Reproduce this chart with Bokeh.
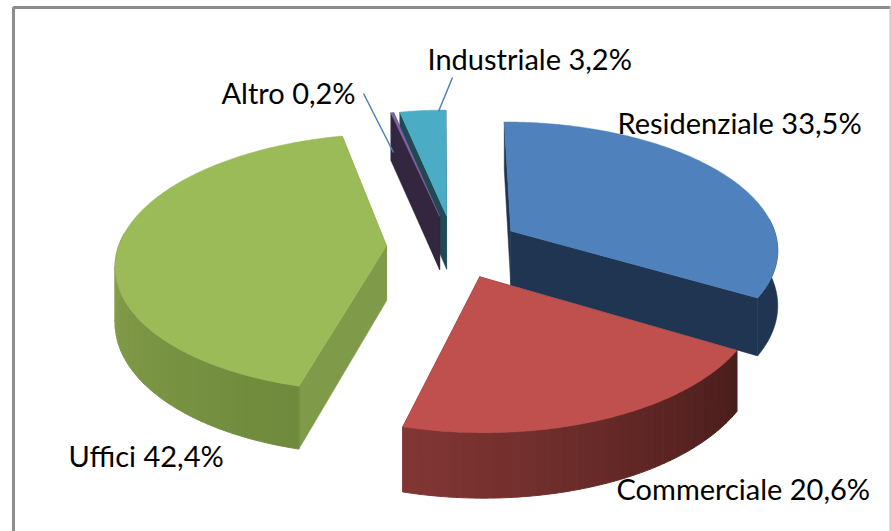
import numpy as np
from bokeh.plotting import figure
from bokeh.embed import file_html
from bokeh.resources import INLINE
from bokeh.core.properties import value

categories = ["Residenziale", "Commerciale", "Uffici", "Altro", "Industriale"]
shares = [33.5, 20.6, 42.4, 0.2, 3.2]

top_colors = ["#4F81BD", "#C0504D", "#9BBB59", "#8064A2", "#4BACC6"]
rim_left = ["#1F3552", "#813634", "#86A04C", "#33263F", "#1F4A55"]
rim_right = ["#1F3552", "#4A1D1B", "#6F8A3C", "#33263F", "#1F4A55"]
edge_colors = ["#1F3552", "#4A1D1B", "#7F9A48", "#33263F", "#1F4A55"]
label_pos = [(617, 122), (616, 488), (68, 455), (221, 92), (427, 58)]
leader_from = {3: (363, 93), 4: (452, 77)}
leader_to = {3: (393, 152), 4: (438, 111)}
FONT_PX = 29
PAGE_W, PAGE_H = 891, 531

OX, OY, W, H, D, A, EXPL = 453, 246, 268, 127, 55, 0.13, 0.25


def project(X, Y, z=0.0):
    X, Y = np.asarray(X, float), np.asarray(Y, float)
    p = 1 / (1 - A * Y)
    return OX + W * X * p, OY + H * Y * p + z * D * p


def hexmix(a, b, f):
    ca = [int(a[i:i + 2], 16) for i in (1, 3, 5)]
    cb = [int(b[i:i + 2], 16) for i in (1, 3, 5)]
    return "#%02x%02x%02x" % tuple(round(u + (v - u) * f) for u, v in zip(ca, cb))


p = figure(width=PAGE_W, height=PAGE_H, x_range=(0, PAGE_W), y_range=(PAGE_H, 0),
           toolbar_location=None, output_backend="svg", min_border=0)
p.axis.visible = False
p.grid.visible = False
p.outline_line_color = None
p.background_fill_color = "white"
p.border_fill_color = "white"

# frame
p.line([890, 13, 13], [7, 7, PAGE_H], line_color="#8C8C8C", line_width=3)
p.line([890, 890], [7, PAGE_H], line_color="#C8C8C8", line_width=2)

edges = np.cumsum([0] + shares) * 3.6
slices = []
for i, s in enumerate(shares):
    a0, a1 = np.radians(edges[i]), np.radians(edges[i + 1])
    mid = (a0 + a1) / 2
    cx, cy = EXPL * np.sin(mid), -EXPL * np.cos(mid)
    t = np.linspace(a0, a1, max(6, int(s * 6)))
    slices.append((i, cx, cy, t))

for i, cx, cy, t in [slices[k] for k in (4, 3, 0, 2, 1)]:
    rx, ry = cx + np.sin(t), cy - np.cos(t)
    # straight walls, from the centre to each end of the arc
    for end in (0, -1):
        xa, ya = project([cx, rx[end]], [cy, ry[end]], 0)
        _, yb = project([cx, rx[end]], [cy, ry[end]], 1)
        p.patch([xa[0], xa[1], xa[1], xa[0]], [ya[0], ya[1], yb[1], yb[0]],
                fill_color=edge_colors[i], line_color=edge_colors[i], line_width=0.5)
    # rim: only the part of the arc that faces the viewer
    front = np.cos(t) < 0.1
    if front.sum() >= 2:
        xs0, ys0 = project(rx[front], ry[front], 0)
        _, ys1 = project(rx[front], ry[front], 1)
        if rim_left[i] == rim_right[i]:
            p.patch(list(xs0) + list(xs0[::-1]), list(ys0) + list(ys1[::-1]),
                    fill_color=rim_left[i], line_color=rim_left[i], line_width=0.5)
        else:
            nb = 28
            cuts = np.linspace(0, len(xs0) - 1, nb + 1).astype(int)
            for b in range(nb):
                lo, hi = cuts[b], cuts[b + 1] + 1
                c = hexmix(rim_left[i], rim_right[i], 1 - b / (nb - 1))
                p.patch(list(xs0[lo:hi]) + list(xs0[lo:hi][::-1]),
                        list(ys0[lo:hi]) + list(ys1[lo:hi][::-1]),
                        fill_color=c, line_color=c, line_width=1)
    # top face
    xt, yt = project(np.r_[cx, rx], np.r_[cy, ry], 0)
    p.patch(list(xt), list(yt), fill_color=top_colors[i], line_color=top_colors[i], line_width=0.5)

# labels
for i, (name, s) in enumerate(zip(categories, shares)):
    txt = f"{name} {s:.1f}%".replace(".", ",")
    lx, ly = label_pos[i]
    p.text([lx], [ly], text=[txt], text_font=value("Lato"), text_font_size=f"{FONT_PX}px",
           text_color="#000000", text_baseline="middle", text_align="left")

# leader lines to the small slices
for i, (fx, fy) in leader_from.items():
    tx, ty = leader_to[i]
    p.line([fx, tx], [fy, ty], line_color="#4F81BD", line_width=1.5)

open("out.html", "w").write(file_html(p, INLINE))
